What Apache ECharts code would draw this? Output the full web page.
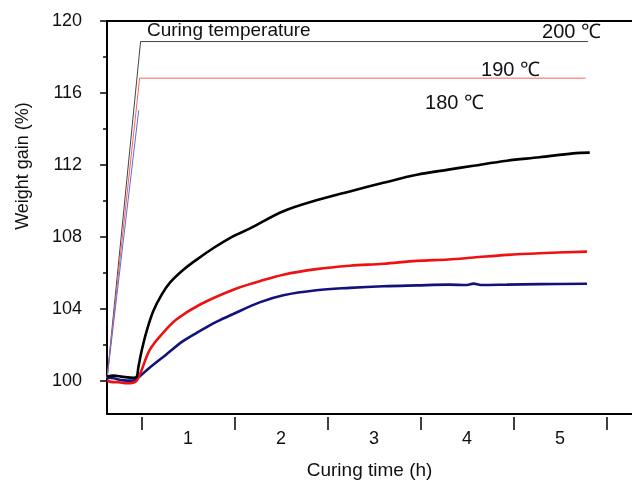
<!DOCTYPE html>
<html><head><meta charset="utf-8">
<script src="https://cdn.jsdelivr.net/npm/echarts@6/dist/echarts.min.js"></script>
<style>html,body{margin:0;padding:0;background:#fff}#c{width:632px;height:485px}</style>
</head><body><div id="c"></div>
<script>
// ---- data ----
const timeBlack = [0.13, 0.2, 0.3, 0.42, 0.45, 0.466, 0.50, 0.556, 0.627, 0.717, 0.806, 0.95, 1.09, 1.27, 1.45, 1.667, 2.025, 2.38, 2.74, 3.10, 3.46, 3.80, 4.07, 4.43, 4.78, 5.14, 5.32];
const gainBlack = [100.1, 100.15, 100.08, 100.03, 100.1, 100.6, 101.5, 102.65, 103.76, 104.68, 105.35, 106.07, 106.63, 107.28, 107.85, 108.39, 109.35, 109.96, 110.46, 110.94, 111.39, 111.68, 111.9, 112.18, 112.37, 112.59, 112.63];

const timeRed = [0.13, 0.17, 0.25, 0.35, 0.43, 0.484, 0.59, 0.735, 0.878, 1.13, 1.487, 1.77, 2.025, 2.38, 2.74, 3.10, 3.46, 3.80, 4.07, 4.43, 4.78, 5.29];
const gainRed = [99.9, 99.8, 99.78, 99.72, 99.78, 100.24, 101.6, 102.56, 103.3, 104.13, 104.96, 105.43, 105.8, 106.11, 106.3, 106.41, 106.57, 106.65, 106.76, 106.91, 107.0, 107.09];

const timeBlue = [0.13, 0.2, 0.3, 0.4, 0.448, 0.59, 0.77, 0.95, 1.13, 1.31, 1.487, 1.77, 2.025, 2.38, 2.74, 3.10, 3.46, 3.80, 4.0, 4.07, 4.15, 4.43, 4.78, 5.29];
const gainBlue = [100.05, 100.0, 99.88, 99.87, 99.96, 100.61, 101.35, 102.09, 102.65, 103.17, 103.6, 104.25, 104.65, 104.93, 105.06, 105.15, 105.2, 105.24, 105.22, 105.3, 105.22, 105.24, 105.27, 105.29];

const timeT200 = [0.13, 0.49, 5.30];
const tempT200 = [100, 118.85, 118.85];
const timeT190 = [0.13, 0.48, 5.276];
const tempT190 = [100, 116.8, 116.8];
const timeT180 = [0.13, 0.47];
const tempT180 = [100, 115.0];

const xTickFirst = 0.5, xTickLast = 5.5;   // ticks every 1 h
const xLabelFirst = 1, xLabelLast = 5;     // labelled hours
const yLabelMin = 100, yLabelMax = 120, yLabelStep = 4;
const yMin = 98, yMax = 120;
const xMin = 0.13;

// ---- layout ----
const W = 632, H = 485;
const FONT = "'Liberation Sans', Arial, Helvetica, sans-serif";
const PX_PER_H = 93, X0_PX = 95;
const PLOT_TOP = 21, PLOT_BOTTOM = 417, PLOT_RIGHT = 632;
const px = t => X0_PX + PX_PER_H * t;
const xMax = (PLOT_RIGHT - X0_PX) / PX_PER_H;
const pyPerUnit = (PLOT_BOTTOM - PLOT_TOP) / (yMax - yMin);
const yLabelBottomPx = PLOT_BOTTOM - (yLabelMin - yMin) * pyPerUnit;

const zip = (a, b) => a.map((v, i) => [v, b[i]]);

const grids = [
  {left: px(xMin), width: PLOT_RIGHT - px(xMin), top: PLOT_TOP, bottom: H - PLOT_BOTTOM},
  {left: px(xTickFirst), width: (xTickLast - xTickFirst) * PX_PER_H, top: PLOT_TOP, bottom: H - PLOT_BOTTOM},
  {left: px(xLabelFirst), width: (xLabelLast - xLabelFirst) * PX_PER_H, top: PLOT_TOP, bottom: H - PLOT_BOTTOM},
  {left: px(xMin), width: PLOT_RIGHT - px(xMin), top: PLOT_TOP, bottom: H - yLabelBottomPx}
];

const off = {show: false};
const option = {
  animation: false,
  backgroundColor: '#fff',
  grid: grids,
  xAxis: [
    {type: 'value', gridIndex: 0, min: xMin, max: xMax,
     axisLine: {show: true, onZero: false, lineStyle: {color: '#000', width: 2}},
     axisTick: off, axisLabel: off, splitLine: off,
     name: 'Curing time (h)', nameLocation: 'middle', nameGap: 47,
     nameTextStyle: {fontFamily: FONT, fontSize: 19, color: '#111'}},
    {type: 'value', gridIndex: 0, position: 'top', min: xMin, max: xMax,
     axisLine: {show: true, onZero: false, lineStyle: {color: '#000', width: 2}},
     axisTick: off, axisLabel: off, splitLine: off},
    {type: 'value', gridIndex: 1, min: xTickFirst, max: xTickLast, interval: 1,
     axisLine: {show: false, onZero: false},
     axisTick: {show: true, inside: false, length: 13, lineStyle: {color: '#000', width: 1.5}},
     axisLabel: off, splitLine: off},
    {type: 'value', gridIndex: 2, min: xLabelFirst, max: xLabelLast, interval: 1,
     axisLine: {show: false, onZero: false}, axisTick: off, splitLine: off,
     axisLabel: {show: true, margin: 13, fontFamily: FONT, fontSize: 18, color: '#111'}},
    {type: 'value', gridIndex: 3, show: false, min: 0, max: 1}
  ],
  yAxis: [
    {type: 'value', gridIndex: 0, min: yMin, max: yMax,
     axisLine: {show: true, onZero: false, lineStyle: {color: '#000', width: 2}},
     axisTick: off, axisLabel: off, splitLine: off},
    {type: 'value', gridIndex: 1, show: false, min: 0, max: 1},
    {type: 'value', gridIndex: 2, show: false, min: 0, max: 1},
    {type: 'value', gridIndex: 3, min: yLabelMin, max: yLabelMax, interval: yLabelStep,
     axisLine: {show: false, onZero: false},
     axisTick: {show: true, inside: false, length: 7, lineStyle: {color: '#000', width: 1.5}},
     minorTick: {show: true, splitNumber: 2, length: 4, lineStyle: {color: '#000', width: 1.5}},
     axisLabel: {show: true, margin: 25, fontFamily: FONT, fontSize: 18, color: '#111'},
     splitLine: off, minorSplitLine: off}
  ],
  series: [
    {type: 'line', name: 'T200', data: zip(timeT200, tempT200), symbol: 'none', lineStyle: {color: '#444', width: 1}, z: 2},
    {type: 'line', name: 'T190', data: zip(timeT190, tempT190), symbol: 'none', lineStyle: {color: '#f06464', width: 1}, z: 2},
    {type: 'line', name: 'T180', data: zip(timeT180, tempT180), symbol: 'none', lineStyle: {color: '#6a6ad8', width: 1}, z: 2},
    {type: 'line', name: '180', data: zip(timeBlue, gainBlue), symbol: 'none', smooth: 0.35, lineStyle: {color: '#12127e', width: 2.6}, z: 3},
    {type: 'line', name: '190', data: zip(timeRed, gainRed), symbol: 'none', smooth: 0.35, lineStyle: {color: '#ee1111', width: 2.6}, z: 4},
    {type: 'line', name: '200', data: zip(timeBlack, gainBlack), symbol: 'none', smooth: 0.35, lineStyle: {color: '#000000', width: 2.6}, z: 5}
  ],
  graphic: [
    {type: 'text', x: 23, y: 166, rotation: Math.PI / 2,
     style: {text: 'Weight gain (%)', font: '18px ' + FONT, fill: '#111', align: 'center', verticalAlign: 'middle', textAlign: 'center', textVerticalAlign: 'middle'}},
    {type: 'text', x: 147, y: 31,
     style: {text: 'Curing temperature', font: '19px ' + FONT, fill: '#111', align: 'left', verticalAlign: 'middle', textAlign: 'left', textVerticalAlign: 'middle'}},
    {type: 'text', x: 601, y: 32,
     style: {text: '200 ℃', font: '20px ' + FONT, fill: '#111', align: 'right', verticalAlign: 'middle', textAlign: 'right', textVerticalAlign: 'middle'}},
    {type: 'text', x: 540, y: 70,
     style: {text: '190 ℃', font: '20px ' + FONT, fill: '#111', align: 'right', verticalAlign: 'middle', textAlign: 'right', textVerticalAlign: 'middle'}},
    {type: 'text', x: 484, y: 103,
     style: {text: '180 ℃', font: '20px ' + FONT, fill: '#111', align: 'right', verticalAlign: 'middle', textAlign: 'right', textVerticalAlign: 'middle'}}
  ]
};
const chart = echarts.init(document.getElementById('c'), null, {renderer: 'canvas'});
chart.setOption(option);
</script>
</body></html>
